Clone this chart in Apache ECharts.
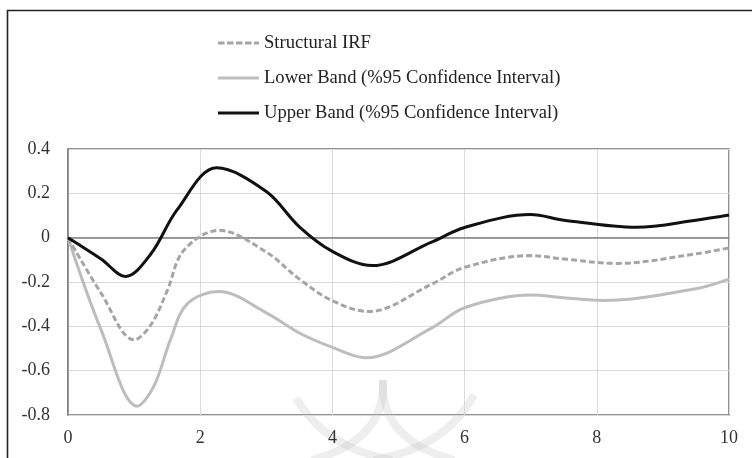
<!DOCTYPE html>
<html>
<head>
<meta charset="utf-8">
<script src="https://cdn.jsdelivr.net/npm/echarts@6/dist/echarts.min.js"></script>
<style>html,body{margin:0;padding:0;background:#fff;}#c{width:752px;height:458px;}</style>
</head>
<body>
<div id="c"></div>
<script>
// Values at the curves' turning points and in between
var structX = [0, 0.5, 1, 1.25, 1.5, 1.75, 2.28, 3, 3.5, 4, 4.55, 5.5, 6, 7, 7.5, 8.3, 9.5, 10];
var structY = [0, -0.25, -0.461, -0.395, -0.24, -0.058, 0.033, -0.065, -0.187, -0.285, -0.333, -0.21, -0.134, -0.081, -0.096, -0.116, -0.073, -0.046];
var lowerX = [0, 0.5, 1.05, 1.3, 1.55, 1.8, 2.28, 3, 3.5, 4, 4.5, 5.5, 6, 7, 7.5, 8.1, 9.5, 10];
var lowerY = [0, -0.415, -0.76, -0.67, -0.46, -0.3, -0.243, -0.339, -0.43, -0.495, -0.542, -0.408, -0.316, -0.259, -0.271, -0.283, -0.23, -0.187];
var upperX = [0, 0.5, 0.87, 1.25, 1.65, 2.25, 3, 3.5, 4, 4.6, 5.5, 6, 7, 7.5, 8.6, 9.5, 10];
var upperY = [0, -0.096, -0.175, -0.075, 0.125, 0.315, 0.208, 0.049, -0.062, -0.126, -0.02, 0.046, 0.104, 0.079, 0.047, 0.079, 0.102];
var xTicks = [0, 2, 4, 6, 8, 10];
var yTicks = [-0.8, -0.6, -0.4, -0.2, 0, 0.2, 0.4];
var seriesNames = ['Structural IRF', 'Lower Band (%95 Confidence Interval)', 'Upper Band (%95 Confidence Interval)'];

function pairs(xa, ya) { return xa.map(function (x, i) { return [x, ya[i]]; }); }
var FONT = '"Liberation Serif", "DejaVu Serif", serif';
var SMOOTH = 0.35;
var chart = echarts.init(document.getElementById('c'), null, { renderer: 'canvas' });
var wm = 'rgba(185,185,185,0.24)';
function arc(x1, y1, cx, cy, x2, y2) {
  return { type: 'bezierCurve', shape: { x1: x1, y1: y1, cpx1: cx, cpy1: cy, x2: x2, y2: y2 },
    style: { fill: null, stroke: wm, lineWidth: 8 }, z: 0, silent: true };
}
var dashIcon = 'path://M0,0h6.5v3h-6.5zM9,0h6.5v3h-6.5zM18,0h6.5v3h-6.5zM27,0h6.5v3h-6.5zM36,0h5v3h-5z';
var solidIcon = 'path://M0,0h41v3h-41z';
chart.setOption({
  animation: false,
  backgroundColor: '#fff',
  graphic: [
    { type: 'rect', shape: { x: 7.5, y: 10.5, width: 800, height: 500 }, style: { fill: null, stroke: '#222', lineWidth: 1.6 }, z: 0, silent: true },
    arc(383, 380, 386, 440, 312, 460),
    arc(383, 380, 380, 440, 454, 460),
    arc(296, 398, 325, 448, 392, 460),
    arc(474, 395, 445, 448, 374, 460)
  ],
  legend: {
    orient: 'vertical',
    left: 218,
    top: 33,
    padding: 0,
    itemWidth: 41,
    itemHeight: 3,
    itemGap: 15,
    data: [
      { name: seriesNames[0], icon: dashIcon },
      { name: seriesNames[1], icon: solidIcon },
      { name: seriesNames[2], icon: solidIcon }
    ],
    textStyle: { fontFamily: FONT, fontSize: 18.6, color: '#222', lineHeight: 20 }
  },
  grid: {
    left: 68, right: 23, top: 149, bottom: 43,
    show: true, borderColor: '#6e6e6e', borderWidth: 1.5, backgroundColor: 'transparent'
  },
  xAxis: {
    type: 'value', min: xTicks[0], max: xTicks[xTicks.length - 1], interval: 2,
    axisLine: { show: true, lineStyle: { color: '#7f7f7f', width: 1.5 } },
    axisTick: { show: false },
    splitLine: { show: true, lineStyle: { color: '#d9d9d9', width: 1 } },
    axisLabel: { margin: 14, fontFamily: FONT, fontSize: 18, color: '#333' }
  },
  yAxis: {
    type: 'value', min: yTicks[0], max: yTicks[yTicks.length - 1], interval: 0.2,
    axisLine: { show: true, lineStyle: { color: '#7f7f7f', width: 1.5 } },
    axisTick: { show: false },
    splitLine: { show: true, lineStyle: { color: '#d9d9d9', width: 1 } },
    axisLabel: {
      margin: 18, fontFamily: FONT, fontSize: 18, color: '#333',
      formatter: function (v) { return String(parseFloat(v.toFixed(1))); }
    }
  },
  series: [
    { name: seriesNames[0], type: 'line', data: pairs(structX, structY), smooth: SMOOTH, symbol: 'none',
      lineStyle: { color: '#a5a5a5', width: 3, type: [6, 3] }, itemStyle: { color: '#a5a5a5' }, z: 3 },
    { name: seriesNames[1], type: 'line', data: pairs(lowerX, lowerY), smooth: SMOOTH, symbol: 'none',
      lineStyle: { color: '#bdbdbd', width: 3 }, itemStyle: { color: '#bdbdbd' }, z: 2 },
    { name: seriesNames[2], type: 'line', data: pairs(upperX, upperY), smooth: SMOOTH, symbol: 'none',
      lineStyle: { color: '#111', width: 3 }, itemStyle: { color: '#111' }, z: 4 }
  ]
});
</script>
</body>
</html>
